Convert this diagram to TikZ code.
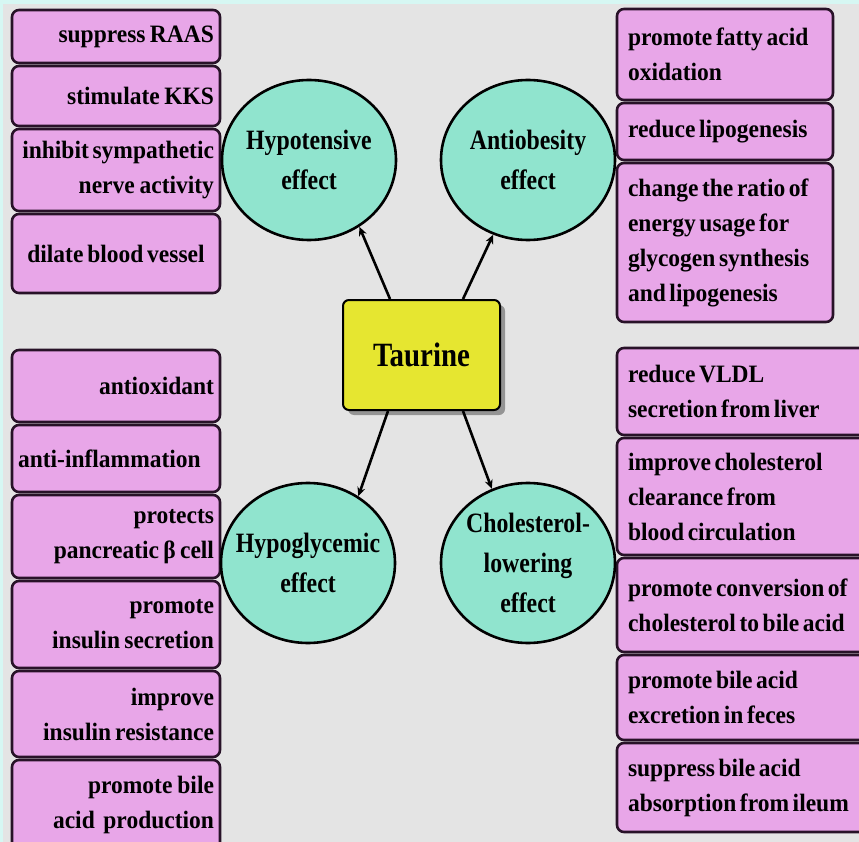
\documentclass[tikz,border=0pt]{standalone}
\usepackage{fontspec}
\setmainfont{Liberation Serif}
\newfontfamily\bxfont[FakeStretch=0.94]{Liberation Serif}
\newfontfamily\crfont[FakeStretch=0.85]{Liberation Serif}
\usetikzlibrary{shapes.geometric,shadows,arrows.meta}
\definecolor{bgc}{RGB}{228,228,228}
\definecolor{topc}{RGB}{214,247,243}
\definecolor{pinkc}{RGB}{232,166,232}
\definecolor{edgec}{RGB}{40,18,40}
\definecolor{mintc}{RGB}{144,228,206}
\definecolor{yelc}{RGB}{230,230,48}
\hyphenpenalty=10000
\exhyphenpenalty=10000
\newcommand\tightsp{\spaceskip=3.6pt plus 1pt minus 0.5pt\relax}
\begin{document}
\begin{tikzpicture}[x=1pt,y=-1pt,
  pbox/.style={draw=edgec, fill=pinkc, line width=2.6pt, rounded corners=7pt,
    inner xsep=0pt, inner ysep=0pt,
    font=\bxfont\bfseries\fontsize{25}{35}\selectfont,
    execute at begin node=\tightsp},
  lcol/.style={pbox, text width=196pt, minimum width=208pt},
  rtop/.style={pbox, text width=194pt, minimum width=216pt, align=left},
  rbot/.style={pbox, text width=236pt, minimum width=258pt, align=left},
  effect/.style={ellipse, draw=black, fill=mintc, line width=2.6pt,
    minimum width=174pt, minimum height=160pt, inner sep=-14pt, align=center,
    font=\crfont\bfseries\fontsize{28}{40}\selectfont},
  center box/.style={rectangle, rounded corners=6pt, fill=yelc, draw=black,
    line width=2pt, minimum width=157pt, minimum height=110pt,
    drop shadow={shadow xshift=5pt, shadow yshift=-5pt, fill=black, opacity=0.35},
    font=\crfont\bfseries\fontsize{34}{40}\selectfont},
  arr/.style={line width=2.6pt, draw=black, -{Stealth[length=9pt,width=8pt]}}]
\clip (0,0) rectangle (859,842);
\fill[bgc] (0,0) rectangle (859,842);
\fill[topc] (0,0) rectangle (859,4);
\fill[topc] (0,0) rectangle (3,842);

% left top
\node[lcol, align=right, minimum height=53pt] (l1) at (116,36.5) {suppress RAAS};
\node[lcol, align=right, minimum height=60pt] (l2) at (116,96) {stimulate KKS};
\node[lcol, align=right, minimum height=82pt] (l3) at (116,170) {inhibit sympathetic\\nerve activity};
\node[lcol, align=center, minimum height=79pt] (l4) at (116,253.5) {dilate blood vessel};

% right top
\node[rtop, minimum height=91pt] (r1) at (725,54.5) {promote fatty acid\\oxidation};
\node[rtop, minimum height=57pt] (r2) at (725,131.5) {reduce lipogenesis};
\node[rtop, minimum height=159pt] (r3) at (725,242.5) {change the ratio of\\energy usage for\\glycogen synthesis\\and lipogenesis};

% left bottom
\node[lcol, align=right, minimum height=72pt] (b1) at (116,386) {antioxidant};
\node[lcol, align=left, minimum height=67pt] (b2) at (116,458.5) {anti-inflammation};
\node[lcol, align=right, minimum height=83pt] (b3) at (116,536.5) {protects\\pancreatic β cell};
\node[lcol, align=right, minimum height=87pt] (b4) at (116,624.5) {promote\\insulin secretion};
\node[lcol, align=right, minimum height=86pt] (b5) at (116,714) {improve\\insulin resistance};
\node[lcol, align=right, minimum height=90pt] (b6) at (116,805) {promote bile\\acid\ \ production};

% right bottom
\node[rbot, minimum height=87pt] (c1) at (746,391.5) {reduce VLDL\\secretion from liver};
\node[rbot, minimum height=117pt] (c2) at (746,496.5) {improve cholesterol\\clearance from\\blood circulation};
\node[rbot, minimum height=94pt] (c3) at (746,605) {promote conversion of\\cholesterol to bile acid};
\node[rbot, minimum height=85pt] (c4) at (746,697.5) {promote bile acid\\excretion in feces};
\node[rbot, minimum height=89pt] (c5) at (746,787.5) {suppress bile acid\\absorption from ileum};

% effects
\node[effect] (hypo) at (309,160) {Hypotensive\\effect};
\node[effect] (obes) at (528,160) {Antiobesity\\effect};
\node[effect] (glyc) at (308,563) {Hypoglycemic\\effect};
\node[effect] (chol) at (528,563) {Cholesterol-\\lowering\\effect};

% centre
\node[center box] (taur) at (421.5,355) {Taurine};

\draw[arr] ([xshift=-31.5pt]taur.north) -- (hypo.-53);
\draw[arr] ([xshift=41.5pt]taur.north) -- (obes.-115);
\draw[arr] ([xshift=-33.5pt]taur.south) -- (glyc.53);
\draw[arr] ([xshift=41.5pt]taur.south) -- (chol.116);
\end{tikzpicture}
\end{document}
